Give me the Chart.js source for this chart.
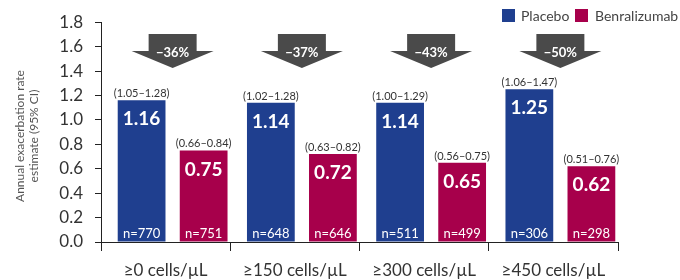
<!DOCTYPE html>
<html>
<head>
<meta charset="utf-8">
<script src="https://cdn.jsdelivr.net/npm/chart.js@4"></script>
<style>
  body { margin: 0; background: #fff; }
  #wrap { width: 680px; height: 280px; }
</style>
</head>
<body>
<div id="wrap"><canvas id="chart" width="680" height="280"></canvas></div>
<script>
const categories = ['≥0 cells/µL', '≥150 cells/µL', '≥300 cells/µL', '≥450 cells/µL'];
const placebo = [1.16, 1.14, 1.14, 1.25];
const benra = [0.75, 0.72, 0.65, 0.62];
const placeboCI = ['(1.05–1.28)', '(1.02–1.28)', '(1.00–1.29)', '(1.06–1.47)'];
const benraCI = ['(0.66–0.84)', '(0.63–0.82)', '(0.56–0.75)', '(0.51–0.76)'];
const placeboN = ['n=770', 'n=648', 'n=511', 'n=306'];
const benraN = ['n=751', 'n=646', 'n=499', 'n=298'];
const reductions = ['−36%', '−37%', '−43%', '−50%'];
const yTicks = [0, 0.2, 0.4, 0.6, 0.8, 1.0, 1.2, 1.4, 1.6, 1.8];

const BLUE = '#1f3f8f';
const RED = '#a7004b';
const FONT = 'Lato, "Open Sans", sans-serif';
const SHIFT = 7; // bar groups sit a little right of the category centres

// draws arrows, bar labels, legend and y title
const extras = {
  id: 'extras',
  beforeDatasetsDraw(chart) {
    chart.ctx.save();
    chart.ctx.translate(SHIFT, 0);
  },
  afterDatasetsDraw(chart) {
    const ctx = chart.ctx;
    ctx.restore();
    const m0 = chart.getDatasetMeta(0);
    const m1 = chart.getDatasetMeta(1);
    const bottom = chart.scales.y.getPixelForValue(0);

    function labelBar(bar, value, ci, n) {
      const x = bar.x + SHIFT;
      ctx.textAlign = 'center';
      ctx.fillStyle = '#333';
      ctx.font = '11px ' + FONT;
      ctx.textBaseline = 'bottom';
      ctx.fillText(ci, x, bar.y - 1);
      ctx.fillStyle = '#fff';
      ctx.font = 'bold 19px ' + FONT;
      ctx.textBaseline = 'middle';
      ctx.fillText(value.toFixed(2), x, bar.y + 19);
      ctx.font = '13px ' + FONT;
      ctx.fillText(n, x, bottom - 8);
    }

    for (let i = 0; i < categories.length; i++) {
      const b0 = m0.data[i], b1 = m1.data[i];
      labelBar(b0, placebo[i], placeboCI[i], placeboN[i]);
      labelBar(b1, benra[i], benraCI[i], benraN[i]);

      // arrow
      const cx = (b0.x + b1.x) / 2 + SHIFT;
      ctx.fillStyle = '#4a4a4a';
      ctx.beginPath();
      ctx.moveTo(cx - 24, 34);
      ctx.lineTo(cx + 24, 34);
      ctx.lineTo(cx + 24, 51);
      ctx.lineTo(cx + 41, 51);
      ctx.lineTo(cx, 68);
      ctx.lineTo(cx - 41, 51);
      ctx.lineTo(cx - 24, 51);
      ctx.closePath();
      ctx.fill();
      ctx.fillStyle = '#fff';
      ctx.font = 'bold 13px ' + FONT;
      ctx.textAlign = 'center';
      ctx.textBaseline = 'middle';
      ctx.fillText(reductions[i], cx, 53);
    }

    // legend
    ctx.font = '14px ' + FONT;
    ctx.textAlign = 'left';
    ctx.textBaseline = 'middle';
    ctx.fillStyle = BLUE;
    ctx.fillRect(502, 9, 13, 13);
    ctx.fillStyle = '#444';
    ctx.fillText('Placebo', 521, 16);
    ctx.fillStyle = RED;
    ctx.fillRect(575, 9, 13, 13);
    ctx.fillStyle = '#444';
    ctx.fillText('Benralizumab', 595, 16);

    // y title
    ctx.save();
    ctx.translate(20, 136);
    ctx.rotate(-Math.PI / 2);
    ctx.fillStyle = '#555';
    ctx.font = '12px ' + FONT;
    ctx.textAlign = 'center';
    ctx.textBaseline = 'middle';
    ctx.fillText('Annual exacerbation rate', 0, 0);
    ctx.fillText('estimate (95% CI)', 0, 14);
    ctx.restore();
  }
};

new Chart(document.getElementById('chart'), {
  type: 'bar',
  data: {
    labels: categories,
    datasets: [
      { label: 'Placebo', data: placebo, backgroundColor: BLUE,
        categoryPercentage: 0.96, barPercentage: 0.77 },
      { label: 'Benralizumab', data: benra, backgroundColor: RED,
        categoryPercentage: 0.96, barPercentage: 0.77 }
    ]
  },
  options: {
    responsive: false,
    animation: false,
    layout: { padding: { top: 19, right: 62, left: 0, bottom: 0 } },
    plugins: { legend: { display: false }, tooltip: { enabled: false } },
    scales: {
      x: {
        grid: { offset: true, drawOnChartArea: false, tickLength: 9, color: '#222' },
        border: { color: '#222', width: 1 },
        ticks: { color: '#333', font: { family: FONT, size: 17 }, padding: 9 },
        afterFit(s) { s.height = 38; }
      },
      y: {
        min: 0, max: 1.8,
        afterBuildTicks(s) { s.ticks = yTicks.map(v => ({ value: v })); },
        grid: { drawOnChartArea: false, tickLength: 6, color: '#222' },
        border: { color: '#222', width: 1 },
        ticks: { color: '#333', font: { family: FONT, size: 17 }, padding: 12,
                 callback: v => v.toFixed(1) },
        afterFit(s) { s.width = 101; }
      }
    }
  },
  plugins: [extras]
});
</script>
</body>
</html>
